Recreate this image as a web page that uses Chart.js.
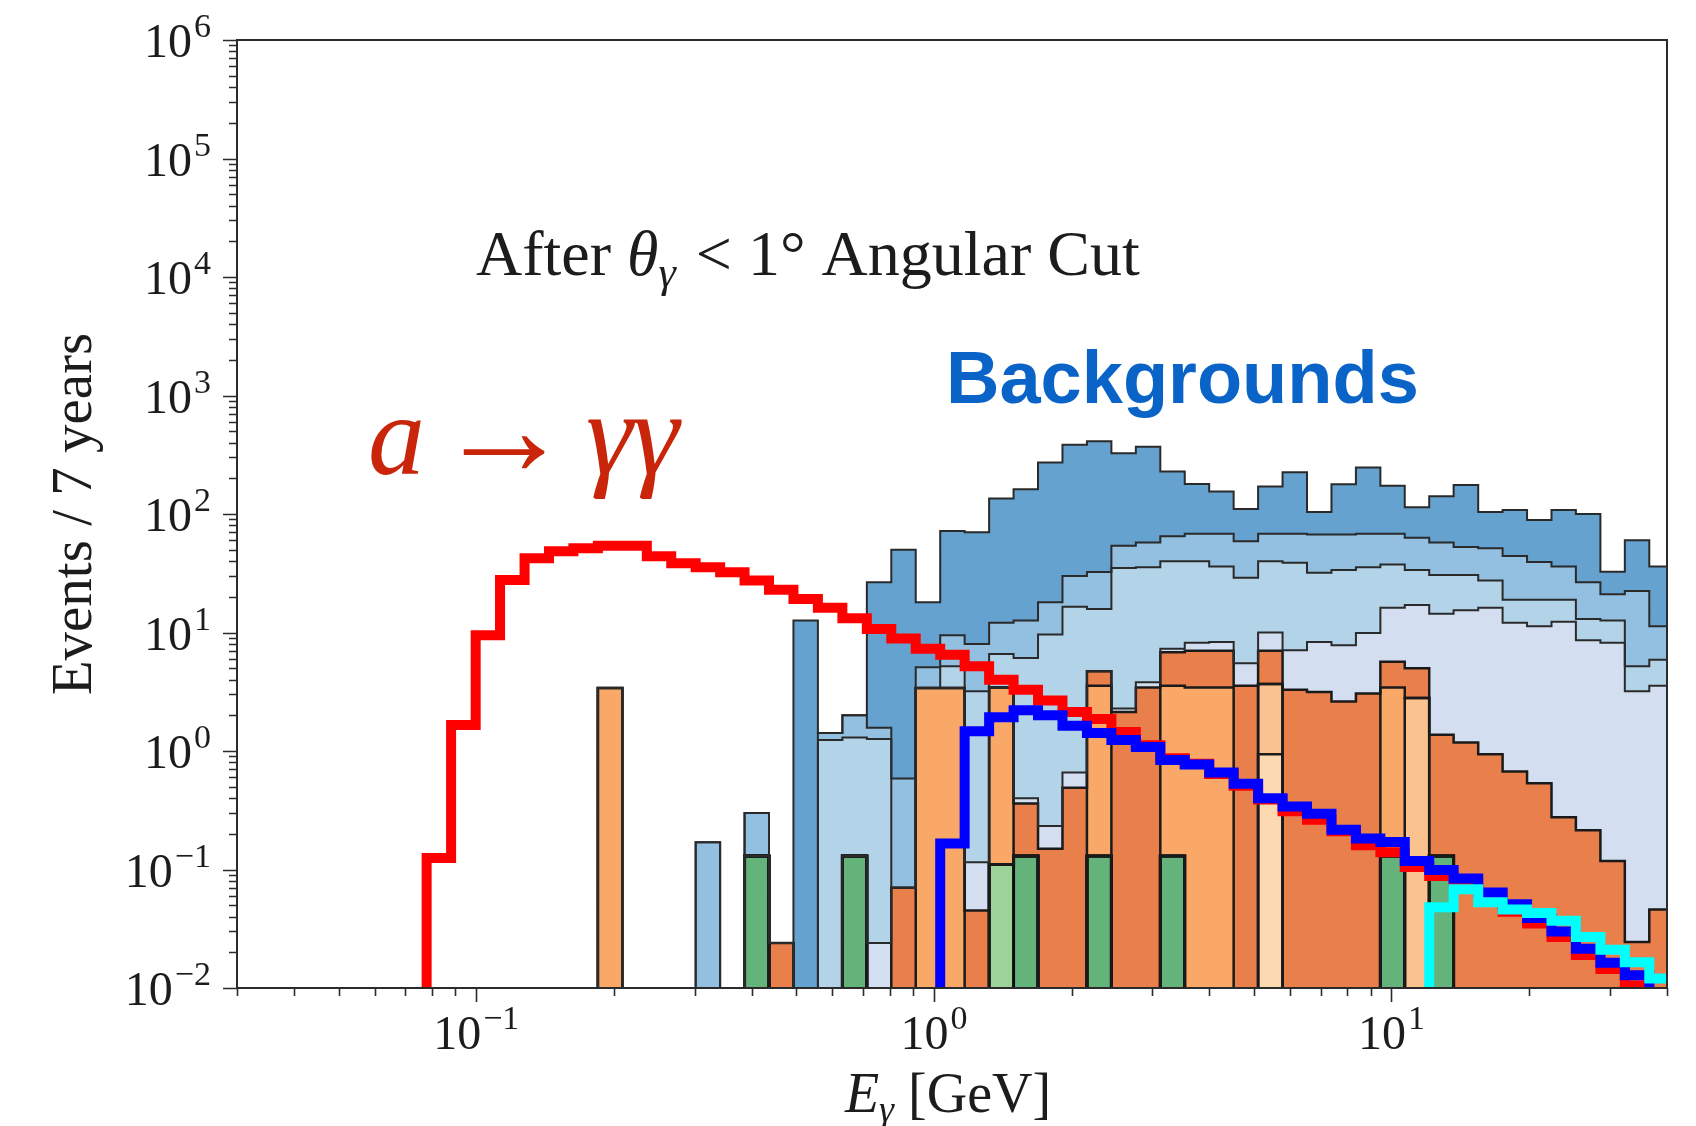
<!DOCTYPE html>
<html>
<head>
<meta charset="utf-8">
<script src="https://cdn.jsdelivr.net/npm/chart.js@4.4.1/dist/chart.umd.min.js"></script>
<style>
  html, body { margin: 0; padding: 0; background: #fff; }
  #wrap { width: 1696px; height: 1126px; }
</style>
</head>
<body>
<div id="wrap"><canvas id="chart" width="1696" height="1126"></canvas></div>
<script>
const _ = null;

// log-spaced histogram bin edges, GeV
const binEdges = [
  0.0779, 0.0881, 0.0997, 0.1127, 0.1275, 0.1442, 0.1630, 0.1844, 0.2085, 0.2359,
  0.2667, 0.3016, 0.3411, 0.3857, 0.4362, 0.4933, 0.5579, 0.6310, 0.7137, 0.8071,
  0.9127, 1.0323, 1.1674, 1.3204, 1.4933, 1.6888, 1.9099, 2.1601, 2.4429, 2.7628,
  3.1246, 3.5335, 3.9962, 4.5194, 5.1110, 5.7803, 6.5372, 7.3932, 8.3610, 9.4560,
  10.69, 12.09, 13.67, 15.47, 17.49, 19.78, 22.37, 25.29, 28.61, 32.35,
  36.59, 41.38
];

// signal a -> gamma gamma (red)
const signalALP = [
  0.125, 1.66, 9.5, 27.7, 42.3, 48.5, 51.5, 54, 54, 44,
  38.4, 35.6, 32.2, 27.5, 23.0, 19.2, 16.2, 13.2, 10.7, 8.9,
  7.3, 6.5, 5.2, 4.0, 3.28, 2.67, 2.13, 1.86, 1.45, 1.12,
  0.87, 0.78, 0.64, 0.51, 0.39, 0.31, 0.263, 0.21, 0.16, 0.14,
  0.105, 0.088, 0.078, 0.062, 0.044, 0.035, 0.027, 0.019, 0.0145, 0.0105,
  0.008
];

// second signal (blue)
const signalBlue = [
  0, 0, 0, 0, 0, 0, 0, 0, 0, 0,
  0, 0, 0, 0, 0, 0, 0, 0, 0, 0,
  0, 0.166, 1.47, 1.93, 2.21, 2.0, 1.63, 1.42, 1.24, 1.08,
  0.84, 0.77, 0.66, 0.53, 0.40, 0.34, 0.296, 0.217, 0.183, 0.171,
  0.118, 0.099, 0.084, 0.064, 0.051, 0.039, 0.030, 0.0214, 0.0163, 0.0128,
  0.0085
];

// third signal (cyan)
const signalCyan = [
  0, 0, 0, 0, 0, 0, 0, 0, 0, 0,
  0, 0, 0, 0, 0, 0, 0, 0, 0, 0,
  0, 0, 0, 0, 0, 0, 0, 0, 0, 0,
  0, 0, 0, 0, 0, 0, 0, 0, 0, 0,
  0, 0.048, 0.068, 0.053, 0.046, 0.043, 0.037, 0.027, 0.021, 0.0165,
  0.012
];

// stacked backgrounds, bottom to top: top edge of each layer per bin,
// null where the layer adds nothing in that bin
const bgGreen = [
  _, _, _, _, _, _, _, _, _, _,
  _, _, _, 0.13, _, _, _, 0.13, _, _,
  _, _, _, _, 0.13, _, _, 0.13, _, _,
  0.13, _, _, _, _, _, _, _, _, 0.13,
  _, 0.13, _, _, _, _, _, _, _, _,
  _
];
const bgLightGreen = [
  _, _, _, _, _, _, _, _, _, _,
  _, _, _, _, _, _, _, _, _, _,
  _, _, _, 0.11, _, _, _, _, _, _,
  _, _, _, _, _, _, _, _, _, _,
  _, _, _, _, _, _, _, _, _, _,
  _
];
const bgOrange4 = [
  _, _, _, _, _, _, _, _, _, _,
  _, _, _, _, _, _, _, _, _, _,
  _, _, _, _, _, _, _, _, _, _,
  _, _, _, _, 0.94, _, _, _, _, _,
  _, _, _, _, _, _, _, _, _, _,
  _
];
const bgOrange3 = [
  _, _, _, _, _, _, _, _, _, _,
  _, _, _, _, _, _, _, _, _, _,
  _, _, _, _, _, _, _, _, _, _,
  _, _, _, _, 3.68, _, _, _, _, _,
  2.8, _, _, _, _, _, _, _, _, _,
  _
];
const bgOrange2 = [
  _, _, _, _, _, _, _, 3.4, _, _,
  _, _, _, _, _, _, _, _, _, _,
  3.4, 3.4, _, 3.44, _, _, _, 3.56, _, _,
  3.56, 3.44, 3.44, _, _, _, _, _, _, 3.44,
  _, _, _, _, _, _, _, _, _, _,
  _
];
const bgOrange1 = [
  _, _, _, _, _, _, _, _, _, _,
  _, _, _, _, 0.024, _, _, _, _, 0.07,
  _, _, 0.045, _, 0.36, 0.15, 0.49, 4.7, 2.13, 3.44,
  6.8, 7.0, 7.0, 3.56, 7.0, 3.28, 3.15, 2.62, 3.06, 5.66,
  5.0, 1.37, 1.18, 0.94, 0.67, 0.535, 0.276, 0.214, 0.118, 0.0245,
  0.046
];
const bgBlue4 = [
  _, _, _, _, _, _, _, _, _, _,
  _, _, _, _, _, _, _, _, 0.024, _,
  _, _, 0.115, _, 0.40, 0.233, 0.66, _, 2.28, 3.8,
  7.3, 8.2, 8.3, 5.5, 10.0, 7.1, 8.3, 7.8, 9.9, 16.2,
  17.1, 14.4, 15.4, 16.2, 12.1, 11.3, 12.3, 8.6, 8.2, 3.2,
  3.56
];
const bgBlue3 = [
  _, _, _, _, _, _, _, _, _, _,
  _, _, _, _, _, _, 1.24, 1.30, 1.26, _,
  _, 5.2, 3.2, 6.6, 6.1, 9.6, 16.5, 15.8, 35, 35.5,
  40, 40, 36, 29, 40, 38.7, 32, 33.7, 35.6, 37.4,
  33.7, 30.5, 30.5, 27.5, 18.9, 18.9, 18.9, 13.0, 12.6, 5.2,
  5.9
];
const bgBlue2 = [
  _, _, _, _, _, _, _, _, _, _,
  _, 0.17, _, 0.30, _, _, 1.42, 2.0, 1.57, 0.585,
  5.1, 9.5, 8.0, 12.1, 12.6, 18, 30, 32.4, 54, 57.5,
  65, 68, 68, 59, 68, 68, 67, 67, 68, 68,
  63, 57.4, 52.6, 51.5, 44.3, 39.3, 36.1, 26.6, 21, 22.4,
  11.3
];
const bgBlue1 = [
  _, _, _, _, _, _, _, _, _, _,
  _, _, _, _, _, 12.6, _, _, 26.6, 50,
  18, 72, 70, 135, 162, 272, 384, 412, 326, 370,
  228, 179, 155, 110, 171, 225, 104, 178, 247, 173,
  114, 141, 176, 104, 108, 89, 108, 100, 32.6, 60,
  36.1
];

const yDecades = [-2, -1, 0, 1, 2, 3, 4, 5, 6];
const xDecades = [-1, 0, 1];

const layers = [
  { vals: bgGreen,      color: '#63b37b', edge: '#0d0d0d', width: 3 },
  { vals: bgLightGreen, color: '#9bd39b', edge: '#0d0d0d', width: 3 },
  { vals: bgOrange4,    color: '#fcd9b0', edge: '#1a1a1a', width: 2.5 },
  { vals: bgOrange3,    color: '#f9c28f', edge: '#1a1a1a', width: 2.5 },
  { vals: bgOrange2,    color: '#f9a868', edge: '#1a1a1a', width: 2.5 },
  { vals: bgOrange1,    color: '#e9804c', edge: '#1a1a1a', width: 2.5 },
  { vals: bgBlue4,      color: '#d3dff0', edge: '#2a2a2a', width: 2 },
  { vals: bgBlue3,      color: '#b3d3e8', edge: '#2a2a2a', width: 2 },
  { vals: bgBlue2,      color: '#93bfe0', edge: '#2a2a2a', width: 2 },
  { vals: bgBlue1,      color: '#65a2cf', edge: '#2a2a2a', width: 2 }
];

// cumulative top of each layer (empty bins sit on the layer below)
const tops = [];
layers.forEach((L, i) => {
  tops.push(L.vals.map((v, k) => v !== null ? v : (i ? tops[i - 1][k] : 0)));
});

const FLOOR = 1e-4; // off the bottom of the axis, so empty bins are not drawn

function stepPoints(vals) {
  const pts = [{ x: binEdges[0], y: FLOOR }];
  vals.forEach((v, k) => pts.push({ x: binEdges[k], y: v > 0 ? v : FLOOR }));
  const last = vals[vals.length - 1];
  pts.push({ x: binEdges[vals.length], y: last > 0 ? last : FLOOR });
  return pts;
}

const stackSets = layers.map((L, i) => ({
  data: stepPoints(tops[i]),
  stepped: true,
  fill: i === 0 ? 'start' : '+1',
  backgroundColor: L.color,
  borderColor: L.edge,
  borderWidth: L.width,
  borderJoinStyle: 'miter',
  pointRadius: 0,
  clip: 0
})).reverse();

function signalSet(vals, color) {
  return {
    data: stepPoints(vals),
    stepped: true,
    fill: false,
    borderColor: color,
    borderWidth: 10,
    borderJoinStyle: 'miter',
    borderCapStyle: 'butt',
    pointRadius: 0,
    clip: 0
  };
}

const SERIF = '"Liberation Serif", "DejaVu Serif", serif';

function put(ctx, text, font, x, y) {
  ctx.font = font;
  ctx.fillText(text, x, y);
  return x + ctx.measureText(text).width;
}

function drawPow(ctx, exp, x, y, align) {
  const base = '10';
  const sup = exp < 0 ? '\u2212' + (-exp) : String(exp);
  const fb = '48px ' + SERIF, fs = '34px ' + SERIF;
  ctx.font = fb; const wb = ctx.measureText(base).width;
  ctx.font = fs; const ws = ctx.measureText(sup).width;
  const total = wb + 2 + ws;
  const left = align === 'right' ? x - total : x - total / 2;
  put(ctx, base, fb, left, y);
  put(ctx, sup, fs, left + wb + 2, y - 20);
}

const decorations = {
  id: 'decorations',
  afterDraw(chart) {
    const { ctx, chartArea: a } = chart;
    const xs = chart.scales.x, ys = chart.scales.y;
    ctx.save();

    // frame
    ctx.strokeStyle = '#2b2b2b';
    ctx.lineWidth = 2;
    ctx.strokeRect(a.left, a.top, a.right - a.left, a.bottom - a.top);

    // tick marks
    ctx.lineWidth = 1.6;
    ctx.beginPath();
    yDecades.forEach(d => {
      for (let m = 1; m <= 9; m++) {
        const v = m * Math.pow(10, d);
        if (v > ys.max * 1.001) continue;
        const py = Math.round(ys.getPixelForValue(v)) + 0.5;
        const len = m === 1 ? 14 : 8;
        ctx.moveTo(a.left - len, py);
        ctx.lineTo(a.left, py);
      }
    });
    [-2].concat(xDecades).forEach(d => {
      for (let m = 1; m <= 9; m++) {
        const v = m * Math.pow(10, d);
        if (v < xs.min * 0.999 || v > xs.max * 1.001) continue;
        const px = Math.round(xs.getPixelForValue(v)) + 0.5;
        const len = m === 1 ? 14 : 8;
        ctx.moveTo(px, a.bottom);
        ctx.lineTo(px, a.bottom + len);
      }
    });
    ctx.stroke();

    // tick labels
    ctx.fillStyle = '#1c1c1c';
    ctx.textAlign = 'left';
    ctx.textBaseline = 'alphabetic';
    yDecades.forEach(d => {
      const py = ys.getPixelForValue(Math.pow(10, d));
      drawPow(ctx, d, 211, py + 17, 'right');
    });
    xDecades.forEach(d => {
      const px = xs.getPixelForValue(Math.pow(10, d));
      drawPow(ctx, d, px, 1049, 'center');
    });

    // axis titles
    ctx.save();
    ctx.translate(72, 514);
    ctx.rotate(-Math.PI / 2);
    ctx.textAlign = 'center';
    ctx.font = '57px ' + SERIF;
    ctx.fillText('Events / 7 years', 0, 19);
    ctx.restore();

    const fE = 'italic 56px ' + SERIF, fSub = 'italic 38px ' + SERIF, fG = '56px ' + SERIF;
    ctx.font = fE; const wE = ctx.measureText('E').width;
    ctx.font = fSub; const wS = ctx.measureText('\u03b3').width;
    ctx.font = fG; const wG = ctx.measureText(' [GeV]').width;
    let tx = 948 - (wE + wS + wG) / 2;
    tx = put(ctx, 'E', fE, tx, 1112);
    tx = put(ctx, '\u03b3', fSub, tx, 1122);
    put(ctx, ' [GeV]', fG, tx, 1112);

    // panel caption
    let cx = 476;
    cx = put(ctx, 'After ', '64px ' + SERIF, cx, 275);
    cx = put(ctx, '\u03b8', 'italic 64px ' + SERIF, cx, 275);
    cx = put(ctx, '\u03b3', 'italic 44px ' + SERIF, cx, 287);
    put(ctx, ' < 1\u00b0 Angular Cut', '64px ' + SERIF, cx + 4, 275);

    // labels
    ctx.fillStyle = '#0a64c8';
    put(ctx, 'Backgrounds', 'bold 74px "Liberation Sans", Arial, sans-serif', 946, 403);

    ctx.fillStyle = '#c8250a';
    put(ctx, 'a', 'italic 114px ' + SERIF, 368, 474);
    put(ctx, '\u2192', '136px ' + SERIF, 436, 475);
    put(ctx, '\u03b3\u03b3', 'italic 118px ' + SERIF, 586, 474);

    ctx.restore();
  }
};

new Chart(document.getElementById('chart'), {
  type: 'line',
  data: {
    datasets: [
      signalSet(signalCyan, '#00ffff'),
      signalSet(signalBlue, '#0000ff'),
      signalSet(signalALP, '#ff0000')
    ].concat(stackSets)
  },
  options: {
    responsive: false,
    animation: false,
    devicePixelRatio: 1,
    layout: { padding: { top: 40, right: 29, left: 0, bottom: 0 } },
    scales: {
      x: {
        type: 'logarithmic',
        min: 0.03,
        max: 40,
        grid: { display: false },
        border: { display: false },
        ticks: { display: false },
        afterFit(scale) { scale.height = 138; }
      },
      y: {
        type: 'logarithmic',
        min: 0.01,
        max: 1e6,
        grid: { display: false },
        border: { display: false },
        ticks: { display: false },
        afterFit(scale) { scale.width = 237; }
      }
    },
    plugins: {
      legend: { display: false },
      tooltip: { enabled: false },
      filler: { propagate: false, drawTime: 'beforeDatasetsDraw' }
    }
  },
  plugins: [decorations]
});
</script>
</body>
</html>
